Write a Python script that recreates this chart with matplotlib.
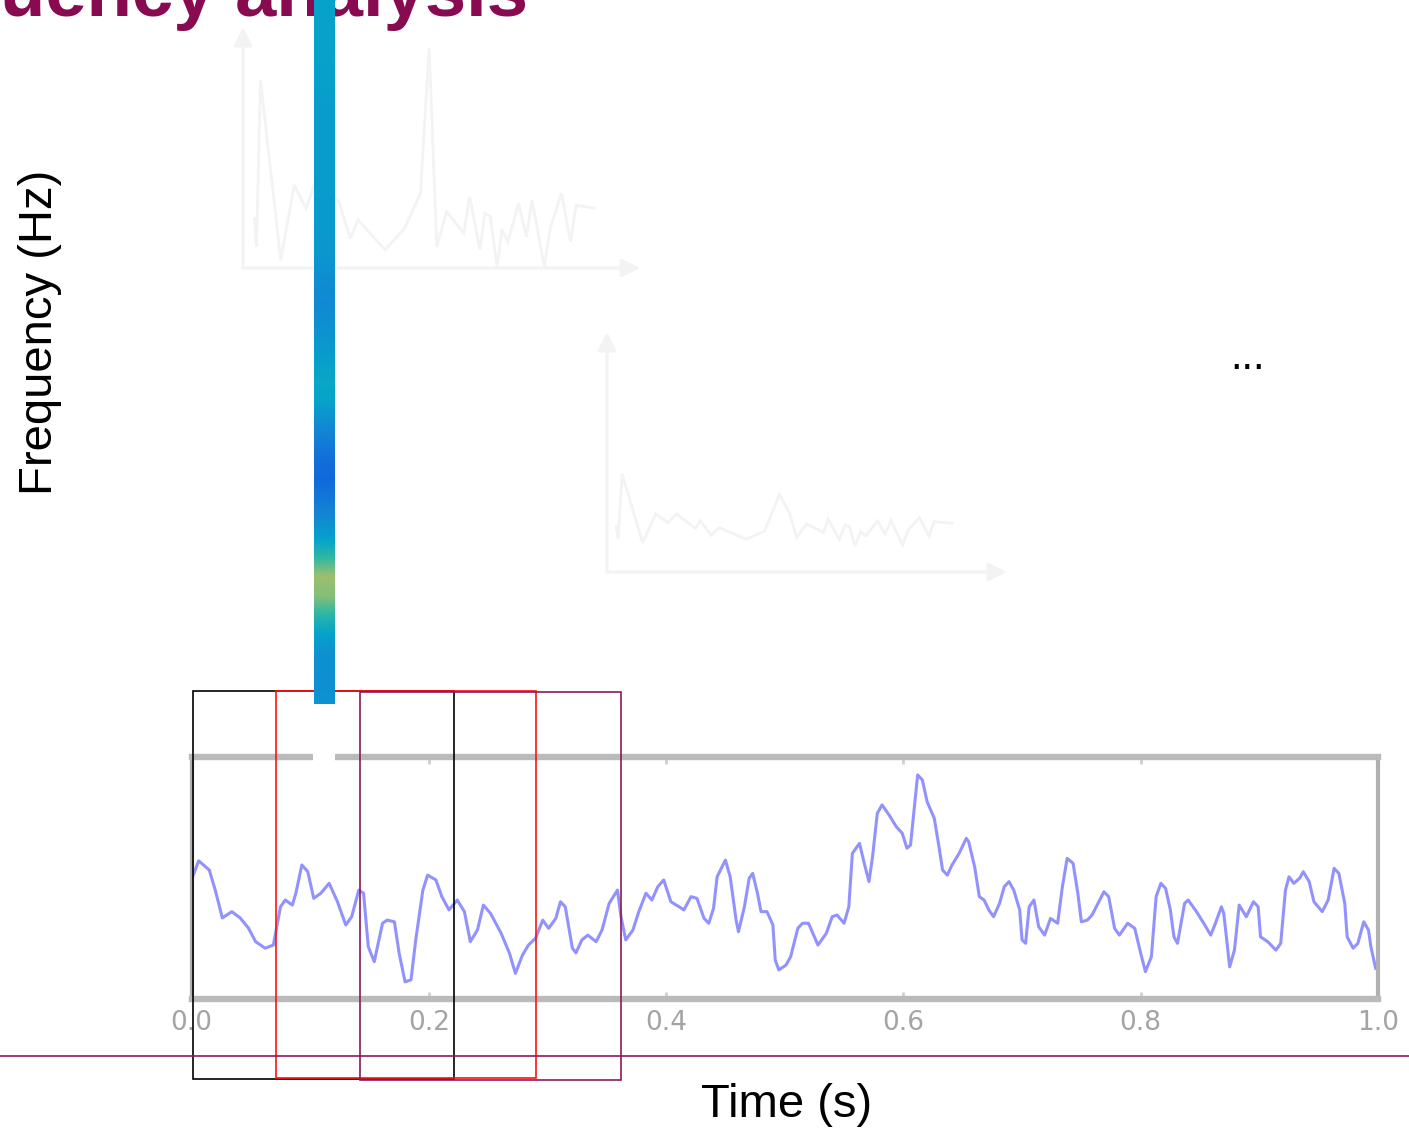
import numpy as np
import matplotlib
matplotlib.use("Agg")
import matplotlib.pyplot as plt
from matplotlib.colors import LinearSegmentedColormap
from matplotlib.patches import Rectangle

plt.rcParams['font.family'] = ['Liberation Sans', 'DejaVu Sans']

# ---------------- data ----------------
title_text = "uency analysis"
ylabel_text = "Frequency (Hz)"
xlabel_text = "Time (s)"
ellipsis_text = "..."

time_ticks = [0.0, 0.2, 0.4, 0.6, 0.8, 1.0]
time_tick_labels = ["0.0", "0.2", "0.4", "0.6", "0.8", "1.0"]

# EEG-like signal (time in s, amplitude in arbitrary units 0..100)
sig_t = [0.000,0.006,0.015,0.020,0.026,0.034,0.041,0.048,0.054,0.062,0.069,0.075,0.079,0.085,0.088,0.093,0.098,0.103,0.109,0.116,
         0.123,0.130,0.135,0.141,0.145,0.149,0.154,0.161,0.165,0.171,0.175,0.180,0.185,0.189,0.195,0.199,0.206,0.211,0.217,0.224,
         0.230,0.235,0.241,0.246,0.252,0.261,0.268,0.273,0.279,0.284,0.290,0.296,0.301,0.307,0.311,0.315,0.321,0.324,0.329,0.334,
         0.341,0.346,0.352,0.359,0.362,0.366,0.372,0.377,0.383,0.388,0.393,0.398,0.404,0.411,0.415,0.421,0.426,0.432,0.436,0.440,
         0.443,0.450,0.454,0.459,0.461,0.466,0.470,0.473,0.477,0.480,0.485,0.490,0.492,0.495,0.501,0.505,0.511,0.515,0.520,0.528,
         0.535,0.540,0.544,0.550,0.554,0.557,0.563,0.567,0.571,0.574,0.578,0.582,0.588,0.594,0.599,0.603,0.606,0.609,0.612,0.616,
         0.620,0.626,0.630,0.633,0.637,0.641,0.647,0.653,0.655,0.660,0.664,0.668,0.672,0.676,0.681,0.685,0.689,0.693,0.698,0.700,
         0.703,0.706,0.710,0.714,0.719,0.724,0.730,0.734,0.738,0.743,0.747,0.750,0.755,0.759,0.764,0.769,0.773,0.778,0.782,0.789,
         0.795,0.800,0.804,0.809,0.813,0.817,0.821,0.825,0.828,0.831,0.837,0.840,0.847,0.854,0.859,0.863,0.868,0.870,0.875,0.879,
         0.883,0.889,0.895,0.899,0.901,0.907,0.914,0.918,0.922,0.925,0.929,0.934,0.937,0.942,0.946,0.953,0.958,0.963,0.967,0.972,
         0.974,0.979,0.983,0.988,0.992,0.994,0.998]
sig_v = [49.2,57.1,53.3,45.0,33.5,36.1,33.5,29.3,23.7,21.0,22.3,38.1,40.9,38.8,43.8,55.4,52.6,41.6,43.7,47.8,
         40.2,30.6,34.0,45.0,43.7,21.6,15.4,31.3,32.6,31.9,18.9,7.1,7.9,24.4,45.0,51.2,49.2,42.3,36.8,40.9,
         36.1,23.7,28.5,38.8,35.4,27.1,18.9,10.6,18.2,22.3,25.1,32.6,29.2,33.3,40.2,38.1,21.0,19.1,24.4,26.4,
         23.7,28.5,39.5,45.0,34.0,24.4,28.5,36.1,43.7,40.9,46.4,49.2,40.2,38.1,36.8,42.3,41.6,33.3,31.3,37.5,
         50.5,57.4,50.5,32.6,27.8,38.1,49.9,51.9,43.7,36.1,36.1,30.6,16.1,12.0,14.0,17.5,29.2,31.3,31.3,22.3,
         27.1,34.0,34.7,31.3,38.1,60.2,64.3,56.1,48.5,58.8,76.7,80.2,76.0,71.2,68.5,62.3,63.6,78.1,92.6,90.5,
         81.5,74.7,62.9,53.3,51.2,55.4,60.2,66.4,65.0,54.7,42.3,40.9,36.8,34.0,39.5,46.4,48.5,45.0,36.8,24.4,
         23.0,38.1,40.9,29.9,26.4,33.3,31.3,46.4,58.1,56.1,43.7,31.9,32.6,34.7,39.5,44.3,42.3,29.2,26.4,31.3,
         29.2,18.9,11.3,17.5,42.3,47.8,45.7,36.8,25.7,23.0,39.5,40.9,36.1,30.6,26.4,31.3,38.1,35.4,13.3,20.2,
         38.8,34.0,40.2,38.1,25.7,23.7,20.2,23.0,45.0,50.5,47.8,49.9,52.6,48.5,40.2,36.1,40.9,54.0,51.9,39.5,
         25.7,21.0,23.0,31.9,28.5,21.6,12.7]

# faint spectrum 1 (upper) : frequency (0..100), power (0..100)
spec1_f = [2.9,3.4,4.4,9.5,12.9,15.9,18.1,24.0,27.0,29.0,35.8,40.7,44.7,46.9,48.8,51.3,55.6,57.1,59.7,60.9,
           62.3,64.0,65.2,66.7,69.4,71.4,72.8,75.9,77.4,80.2,82.5,83.9,88.5]
spec1_p = [20.6,8.8,78.0,3.3,34.4,24.8,35.1,28.2,12.3,19.9,7.5,16.5,31.0,91.2,8.8,23.4,14.4,29.6,7.5,22.7,
           21.3,0.5,15.8,10.9,26.8,13.0,28.2,0.5,16.5,31.0,10.9,26.1,24.8]

# faint spectrum 2 (lower)
spec2_f = [2.3,2.8,3.8,8.9,12.2,15.2,17.4,22.1,23.3,26.0,28.1,34.8,39.4,43.1,45.6,47.4,49.9,54.1,55.3,58.1,
           59.5,60.6,62.0,63.4,64.7,67.6,69.5,71.0,73.9,75.3,78.1,80.5,81.8,86.3]
spec2_p = [18.9,14.0,40.8,12.2,24.2,20.5,24.2,18.2,21.4,15.4,18.5,13.6,17.1,32.1,24.7,14.5,20.0,16.4,22.0,13.6,
           19.6,18.9,10.8,16.8,15.0,21.3,15.8,21.4,11.3,17.5,22.6,15.0,21.0,20.3]

# one time-slice of the spectrogram (top = high frequency -> bottom = low frequency), normalised power
column_power = [0.37,0.37,0.37,0.36,0.36,0.35,0.35,0.35,0.35,0.35,0.34,0.34,0.33,0.32,0.29,0.28,0.30,0.33,
                0.36,0.39,0.37,0.30,0.24,0.19,0.17,0.22,0.28,0.36,0.50,0.66,0.62,0.48,0.36,0.31,0.30,0.31]

# ---------------- figure ----------------
W, H = 1409, 1131
fig = plt.figure(figsize=(W / 100, H / 100), dpi=100)
fig.patch.set_facecolor("white")


def px(x0, y0, x1, y1):
    return [x0 / W, 1 - y1 / H, (x1 - x0) / W, (y1 - y0) / H]


faint = "#f3f3f3"

# faint spectra
for box, f, p in [((243, 27, 640, 268), spec1_f, spec1_p),
                  ((607, 332, 1007, 572), spec2_f, spec2_p)]:
    a = fig.add_axes(px(*box), zorder=1)
    a.set_xlim(0, 100)
    a.set_ylim(0, 100)
    a.axis("off")
    a.plot(f, p, color=faint, lw=2.0, solid_joinstyle="miter")
    a.annotate("", xy=(0, 1), xytext=(0, 0), xycoords="axes fraction",
               arrowprops=dict(arrowstyle="-|>", color=faint, lw=2.2, mutation_scale=28, shrinkA=0, shrinkB=0))
    a.annotate("", xy=(1, 0), xytext=(0, 0), xycoords="axes fraction",
               arrowprops=dict(arrowstyle="-|>", color=faint, lw=2.2, mutation_scale=28, shrinkA=0, shrinkB=0))

# signal axes
ax = fig.add_axes(px(191.5, 757, 1378, 999), zorder=2)
ax.plot(sig_t, sig_v, color="#7f7fff", lw=2.2, alpha=0.85)
ax.set_xlim(0, 1)
ax.set_ylim(0, 100)
ax.set_yticks([])
ax.set_xticks(time_ticks)
ax.set_xticklabels(time_tick_labels)
ax.tick_params(axis="x", direction="in", length=5, width=2, color="#d0d0d0", top=True,
               labelsize=19, labelcolor="#a4a4a4", pad=8)
for s in ["top", "bottom"]:
    ax.spines[s].set_color("#bababa")
    ax.spines[s].set_linewidth(4.6)
for s in ["left", "right"]:
    ax.spines[s].set_color("#b0b0b0")
    ax.spines[s].set_linewidth(3.0)
for lab in ax.get_xticklabels():
    lab.set_family(["DejaVu Sans"])

# overlay in pixel coordinates
ov = fig.add_axes([0, 0, 1, 1], zorder=3)
ov.set_xlim(0, W)
ov.set_ylim(H, 0)
ov.axis("off")
ov.patch.set_alpha(0)

ov.text(0, 16, title_text, fontsize=53.5, fontweight="bold", color="#880a50",
        ha="left", va="baseline")

ov.annotate("", xy=(88, -8), xytext=(84, 690),
            arrowprops=dict(arrowstyle="-|>", color="black", lw=1.5, mutation_scale=22, shrinkA=0, shrinkB=0))

ov.text(40, 332, ylabel_text, rotation=90, fontsize=34, ha="center", va="center", color="black")
ov.text(787, 1105, xlabel_text, fontsize=34, ha="center", va="center", color="black")
ov.text(1247, 369, ellipsis_text, fontsize=30, ha="center", va="baseline", color="black")

ov.plot([0, W], [1056, 1056], color="#8b1a5a", lw=1.2)

# analysis windows
ov.add_patch(Rectangle((193, 691), 261, 388, fill=False, ec="black", lw=1.2))
ov.add_patch(Rectangle((276, 691), 260, 387, fill=False, ec="#ff1010", lw=1.2))
ov.add_patch(Rectangle((360, 692), 261, 388, fill=False, ec="#8b1a5a", lw=1.2))

# white gap in the frame below the column
ov.add_patch(Rectangle((313, 745), 22, 16, fc="white", ec="none"))

# spectrogram column (parula-like colormap)
parula = LinearSegmentedColormap.from_list(
    "parula_like",
    ["#352a87", "#0f5cdd", "#1481d6", "#06a4ca", "#2eb7a4", "#87bf77", "#d1bb59", "#fec832", "#f9fb0e"])
axc = fig.add_axes(px(313.5, 0, 334.5, 704), zorder=4)
axc.imshow(np.array(column_power).reshape(-1, 1), aspect="auto", cmap=parula, vmin=0, vmax=1,
           interpolation="bilinear")
axc.axis("off")

fig.savefig("out.png", dpi=100, facecolor="white")
